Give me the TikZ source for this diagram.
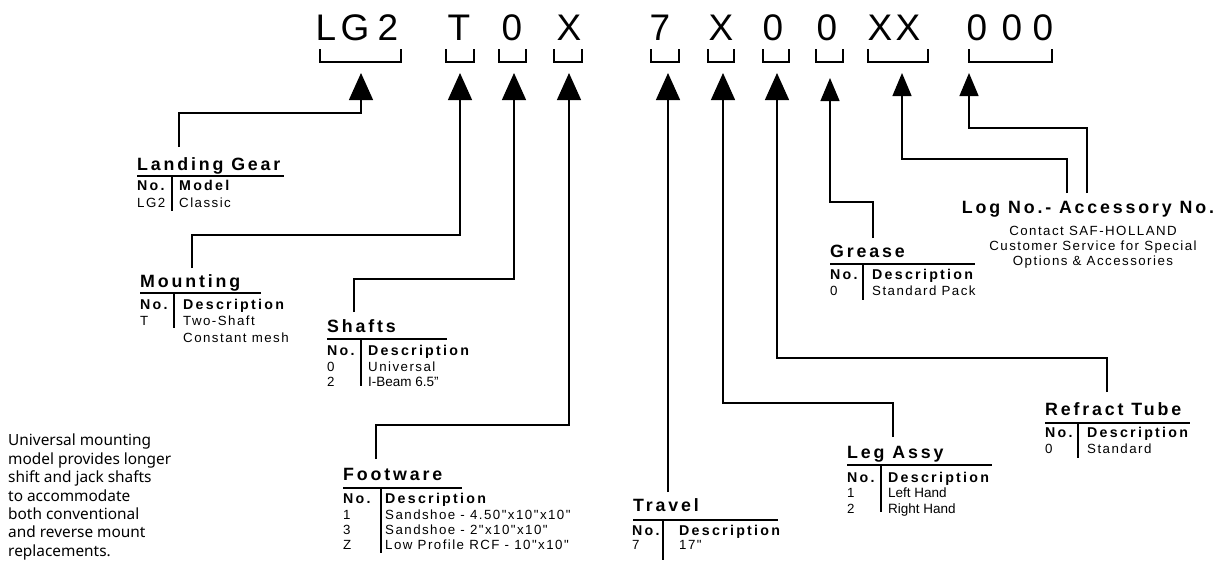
\documentclass[tikz,border=0pt]{standalone}
\usepackage{fontspec}
\setmainfont{Liberation Sans}
\newfontfamily\wide[LetterSpace=11]{Liberation Sans}
\newfontfamily\wider[LetterSpace=16]{Liberation Sans}
\newfontfamily\notefont{Noto Sans}
\usetikzlibrary{arrows.meta}

\tikzset{
  code/.style={anchor=base, inner sep=0pt, font=\fontsize{37}{40}\selectfont},
  ttl/.style={anchor=base west, inner sep=0pt, font=\wider\bfseries\fontsize{17.8}{20}\selectfont},
  hd/.style={anchor=base west, inner sep=0pt, font=\wider\bfseries\fontsize{14.2}{16}\selectfont},
  row/.style={anchor=base west, inner sep=0pt, font=\wide\fontsize{13.3}{15}\selectfont},
  plainrow/.style={anchor=base west, inner sep=0pt, font=\fontsize{13.5}{15}\selectfont},
  brk/.style={line width=2.6pt},
  rl/.style={line width=1.5pt},
  conn/.style={line width=1.3pt, -{Triangle[length=27pt,width=24pt]}},
  connsm/.style={line width=1.3pt, -{Triangle[length=23pt,width=19pt]}},
}

\begin{document}
\begin{tikzpicture}[x=1pt,y=-1pt]
      \useasboundingbox (0,0) rectangle (1225,560);
      \clip (0,0) rectangle (1225,560);

      % model code
      \node[code] (c1) at (326,40) {L};
      \node[code] (c2) at (355,40) {G};
      \node[code] (c3) at (388,40) {2};
      \node[code] (c4) at (459,40) {T};
      \node[code] (c5) at (512,40) {0};
      \node[code] (c6) at (569,40) {X};
      \node[code] (c7) at (660,40) {7};
      \node[code] (c8) at (721,40) {X};
      \node[code] (c9) at (773,40) {0};
      \node[code] (c10) at (827,40) {0};
      \node[code] (c11) at (880,40) {X};
      \node[code] (c12) at (908,40) {X};
      \node[code] (c13) at (977,40) {0};
      \node[code] (c14) at (1012,40) {0};
      \node[code] (c15) at (1043,40) {0};

      \draw[brk] (320,49) -- (320,62) -- (401,62) -- (401,49);
      \draw[brk] (446,49) -- (446,62) -- (474,62) -- (474,49);
      \draw[brk] (499,49) -- (499,62) -- (526,62) -- (526,49);
      \draw[brk] (554,49) -- (554,62) -- (582,62) -- (582,49);
      \draw[brk] (651,49) -- (651,62) -- (679,62) -- (679,49);
      \draw[brk] (708,49) -- (708,62) -- (734,62) -- (734,49);
      \draw[brk] (763,49) -- (763,62) -- (789,62) -- (789,49);
      \draw[brk] (816,49) -- (816,62) -- (843,62) -- (843,49);
      \draw[brk] (868,49) -- (868,62) -- (928,62) -- (928,49);
      \draw[brk] (969,49) -- (969,62) -- (1052,62) -- (1052,49);

      \coordinate (b1) at (361,73);
      \coordinate (b2) at (460,73);
      \coordinate (b3) at (514,73);
      \coordinate (b4) at (569,73);
      \coordinate (b5) at (668,73);
      \coordinate (b6) at (723,73);
      \coordinate (b7) at (777,73);
      \coordinate (b8) at (830,78);
      \coordinate (b9) at (902,73);
      \coordinate (b10) at (969,73);

      % landing gear
      \node[ttl] (lg) at (137,170) {Landing Gear};
      \draw[rl] (137,176) -- (284,176);
      \node[hd] (lgno) at (137,190) {No.};
      \node[hd] (lgds) at (179,190) {Model};
      \node[row] (lgn1) at (137,207) {LG2};
      \node[row] (lgd1) at (179,207) {Classic};
      \draw[rl] (172,176) -- (172,211);
      \coordinate (lgin) at (179,147);

      % mounting
      \node[ttl] (mnt) at (140,287) {Mounting};
      \draw[rl] (140,293) -- (261,293);
      \node[hd] (mntno) at (140,309) {No.};
      \node[hd] (mntds) at (183,309) {Description};
      \node[row] (mntn1) at (140,325) {T};
      \node[row] (mntd1) at (183,325) {Two-Shaft};
      \node[row] (mntd2) at (183,342) {Constant mesh};
      \draw[rl] (174,293) -- (174,328);
      \coordinate (mntin) at (192,268);

      % shafts
      \node[ttl] (sft) at (327,332) {Shafts};
      \draw[rl] (327,339) -- (447,339);
      \node[hd] (sftno) at (327,355) {No.};
      \node[hd] (sftds) at (368,355) {Description};
      \node[row] (sftn1) at (327,371) {0};
      \node[row] (sftd1) at (368,371) {Universal};
      \node[row] (sftn2) at (327,386) {2};
      \node[plainrow] (sftd2) at (368,386) {I-Beam 6.5"};
      \draw[rl] (361,339) -- (361,386);
      \coordinate (sftin) at (354,312);

      % footware
      \node[ttl] (ftw) at (343,480) {Footware};
      \draw[rl] (343,488) -- (462,488);
      \node[hd] (ftwno) at (343,503) {No.};
      \node[hd] (ftwds) at (385,503) {Description};
      \node[row] (ftwn1) at (343,519) {1};
      \node[row] (ftwd1) at (385,519) {Sandshoe - 4.50"x10"x10"};
      \node[row] (ftwn2) at (343,534) {3};
      \node[row] (ftwd2) at (385,534) {Sandshoe - 2"x10"x10"};
      \node[row] (ftwn3) at (343,549) {Z};
      \node[row] (ftwd3) at (385,549) {Low Profile RCF - 10"x10"};
      \draw[rl] (381,488) -- (381,553);
      \coordinate (ftwin) at (376,459);

      % travel
      \node[ttl] (trv) at (633,511) {Travel};
      \draw[rl] (633,520) -- (778,520);
      \node[hd] (trvno) at (632,535) {No.};
      \node[hd] (trvds) at (679,535) {Description};
      \node[row] (trvn1) at (632,549) {7};
      \node[row] (trvd1) at (679,549) {17"};
      \draw[rl] (663,520) -- (663,560);
      \coordinate (trvin) at (668,492);

      % leg assy
      \node[ttl] (leg) at (847,458) {Leg Assy};
      \draw[rl] (847,465) -- (992,465);
      \node[hd] (legno) at (847,482) {No.};
      \node[hd] (legds) at (888,482) {Description};
      \node[row] (legn1) at (847,497) {1};
      \node[plainrow] (legd1) at (888,497) {Left Hand};
      \node[row] (legn2) at (847,513) {2};
      \node[plainrow] (legd2) at (888,513) {Right Hand};
      \draw[rl] (881,465) -- (881,512);
      \coordinate (legin) at (893,437);

      % refract tube
      \node[ttl] (rft) at (1045,415) {Refract Tube};
      \draw[rl] (1045,423) -- (1190,423);
      \node[hd] (rftno) at (1045,437) {No.};
      \node[hd] (rftds) at (1087,437) {Description};
      \node[row] (rftn1) at (1045,453) {0};
      \node[row] (rftd1) at (1087,453) {Standard};
      \draw[rl] (1078,423) -- (1078,458);
      \coordinate (rftin) at (1107,392);

      % grease
      \node[ttl] (grs) at (830,257) {Grease};
      \draw[rl] (830,264) -- (975,264);
      \node[hd] (grsno) at (830,279) {No.};
      \node[hd] (grsds) at (872,279) {Description};
      \node[row] (grsn1) at (830,295) {0};
      \node[row] (grsd1) at (872,295) {Standard Pack};
      \draw[rl] (863,264) -- (863,300);
      \coordinate (grsin) at (873,238);

      % log no. - accessory no.
      \node[ttl, anchor=base] (log) at (1088,213) {Log No.- Accessory No.};
      \node[row, anchor=north, align=center] (logtx) at (1093,226.5)
        {Contact SAF-HOLLAND\\Customer Service for Special\\Options \& Accessories};
      \coordinate (login1) at (1067,193);
      \coordinate (login2) at (1087,193);

      % note
      \node[anchor=north west, inner sep=0pt, align=left, font=\notefont\fontsize{15.4}{18.4}\selectfont] (note) at (8,434)
        {Universal mounting\\model provides longer\\shift and jack shafts\\to accommodate\\both conventional\\and reverse mount\\replacements.};

      % connectors
      \draw[conn] (lgin) -- ++(0,-34) -| (b1);
      \draw[conn] (mntin) -- ++(0,-33) -| (b2);
      \draw[conn] (sftin) -- ++(0,-33) -| (b3);
      \draw[conn] (ftwin) -- ++(0,-34) -| (b4);
      \draw[conn] (trvin) -- (b5);
      \draw[conn] (legin) -- ++(0,-34) -| (b6);
      \draw[conn] (rftin) -- ++(0,-34) -| (b7);
      \draw[connsm] (grsin) -- ++(0,-36) -| (b8);
      \draw[connsm] (login1) -- ++(0,-34) -| (b9);
      \draw[connsm] (login2) -- ++(0,-65) -| (b10);
\end{tikzpicture}
\end{document}
